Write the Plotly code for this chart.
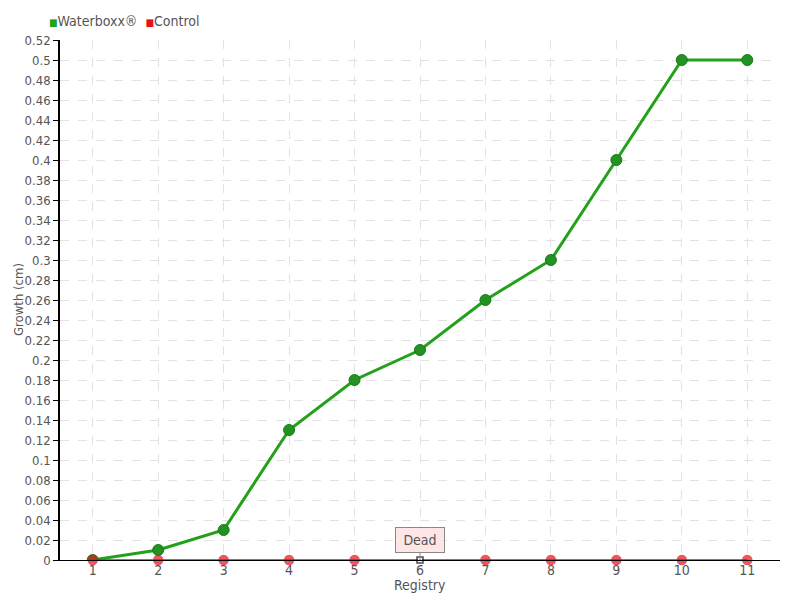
import plotly.graph_objects as go

registry = [1, 2, 3, 4, 5, 6, 7, 8, 9, 10, 11]
waterboxx = [0, 0.01, 0.03, 0.13, 0.18, 0.21, 0.26, 0.30, 0.40, 0.50, 0.50]
control = [0, 0, 0, 0, 0, 0, 0, 0, 0, 0, 0]
y_ticks = [round(i * 0.02, 2) for i in range(27)]
y_tick_text = [("%g" % v) for v in y_ticks]
series_names = ["Waterboxx®", "Control"]

FONT = "DejaVu Sans Condensed, Liberation Sans Narrow, sans-serif"
GREEN = "#23a11a"
RED = "#e8101c"

# figure is drawn at an 8px page offset; plot area 60..780 x 40..560 on screen
W, H = 792, 592
ML, MR, MT, MB = 52, 20, 32, 40
PW, PH = W - ML - MR, H - MT - MB


def px_x(sx):
    return (sx - 8 - ML) / PW


def px_y(sy):
    return 1 - (sy - 8 - MT) / PH


fig = go.Figure()
fig.add_trace(go.Scatter(
    x=registry, y=waterboxx, mode="lines+markers", name=series_names[0], showlegend=False,
    line=dict(color=GREEN, width=3),
    marker=dict(size=11, color="#229322", line=dict(color="#1a7a1a", width=1)),
))
ctrl_sym = ["circle"] * len(registry)
ctrl_col = [RED] * len(registry)
ctrl_size = [9] * len(registry)
ctrl_lc = [RED] * len(registry)
ctrl_sym[5] = "square"
ctrl_col[5] = "white"
ctrl_size[5] = 6
ctrl_lc[5] = "black"
fig.add_trace(go.Scatter(
    x=registry, y=control, mode="lines+markers", name=series_names[1], showlegend=False,
    line=dict(color=RED, width=1.5),
    marker=dict(size=ctrl_size, color=ctrl_col, symbol=ctrl_sym,
                line=dict(color=ctrl_lc, width=1.5)),
    cliponaxis=False,
))

legend_text = (f"<span style='color:{GREEN};font-size:10px'>■</span>{series_names[0]}  "
               f"<span style='color:{RED};font-size:10px'>■</span>{series_names[1]}")
fig.add_annotation(x=px_x(47), y=px_y(21), xref="paper", yref="paper", text=legend_text,
                   showarrow=False, xanchor="left", yanchor="middle",
                   font=dict(family=FONT, size=14, color="#555"))

fig.add_annotation(x=px_x(420), y=px_y(585), xref="paper", yref="paper", text="Registry",
                   showarrow=False, xanchor="center", yanchor="middle",
                   font=dict(family=FONT, size=14, color="#555"))

fig.add_annotation(x=px_x(18), y=px_y(300), xref="paper", yref="paper", text="Growth (cm)",
                   showarrow=False, xanchor="center", yanchor="middle", textangle=-90,
                   font=dict(family=FONT, size=13, color="#555"))

fig.add_annotation(x=6, y=0, xref="x", yref="y", text="Dead", showarrow=True,
                   arrowhead=0, arrowwidth=1, arrowcolor="#888", ax=0, ay=-20,
                   width=42, height=18,
                   bgcolor="#fde6e6", bordercolor="#888", borderwidth=1, borderpad=3,
                   font=dict(family=FONT, size=14, color="#555"))

fig.update_layout(
    width=W, height=H,
    margin=dict(l=ML, r=MR, t=MT, b=MB, autoexpand=False),
    plot_bgcolor="white", paper_bgcolor="white",
    font=dict(family=FONT, size=14, color="#555"),
    showlegend=False,
    xaxis=dict(range=[0.5, 11.5], tickvals=registry, ticktext=[str(r) for r in registry],
               showgrid=True, gridcolor="#e2e2e2", griddash="dash", gridwidth=1,
               zeroline=False, showline=True, linecolor="black", linewidth=1,
               ticks="", automargin=False, ticklabelstandoff=-3),
    yaxis=dict(range=[0, 0.52], tickvals=y_ticks, ticktext=y_tick_text,
               tickfont=dict(size=13),
               showgrid=True, gridcolor="#e2e2e2", griddash="dash", gridwidth=1,
               zeroline=False, showline=True, linecolor="black", linewidth=1.5,
               ticks="outside", ticklen=5, tickcolor="black", automargin=False),
)
fig.write_html("out.html")
